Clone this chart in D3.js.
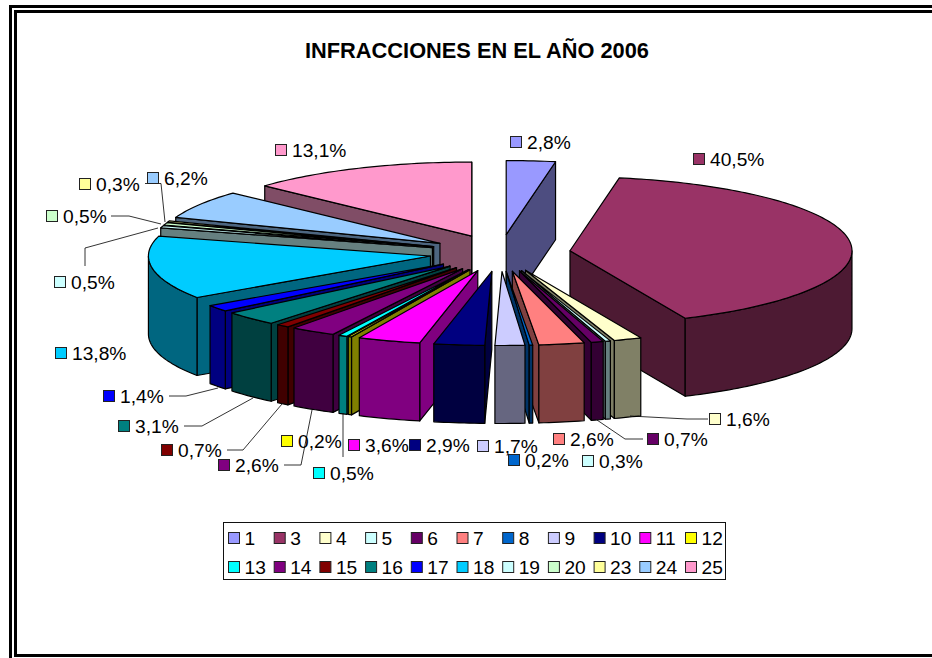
<!DOCTYPE html>
<html><head><meta charset="utf-8">
<script src="https://cdn.jsdelivr.net/npm/d3@7"></script>
<style>html,body{margin:0;padding:0;background:#fff}svg{display:block}
text{font-family:"Liberation Sans",Arial,sans-serif;fill:#000}</style></head>
<body><svg id="c" width="932" height="658"></svg>
<script>
const titleText = "INFRACCIONES EN EL AÑO 2006";
const categories = ["1","3","4","5","6","7","8","9","10","11","12","13","14","15","16","17","18","19","20","23","24","25"];
// shares as printed; the tail keeps a second decimal so the whole adds to 100 as the wedges do
const percentages = [2.8,40.5,1.6,0.3,0.7,2.6,0.2,1.7,2.9,3.6,0.2,0.5,2.6,0.74,3.14,1.44,13.8,0.52,0.52,0.32,6.2,13.12];
const colors = ["#9999FF","#993366","#FFFFCC","#CCFFFF","#660066","#FF8080","#0066CC","#CCCCFF","#000080","#FF00FF","#FFFF00","#00FFFF","#800080","#800000","#008080","#0000FF","#00CCFF","#CCFFFF","#CCFFCC","#FFFF99","#99CCFF","#FF99CC"];

// layout (not data): label key left edge / centre y, per category
const labelX = [510,693,709,582,647,553,508,477,409,348,281,313,218,161,118,103,55,54,46,79,147,275];
const labelY = [142,159,419,461,439,439,460,446,445,445,441,473,465,450,426,396,353,282,216,184,178,150];
const leaders = [
  [[145,183.5],[161,183.5],[165,222]],
  [[111,216],[129,216],[161,224]],
  [[85,266],[85,248],[158,228]],
  [[169,396],[186,396],[218,388]],
  [[184,426],[202,426],[253,398]],
  [[227,450],[243,450],[282,404]],
  [[284,465],[301,465],[312,410]],
  [[343,457],[343,413]],
  [[643,439],[625,439],[597,420]],
  [[708,419],[687,419],[630,416]]
];

const cx=500, cy=253, Rx=282, Ry=74, depth=78, explode=0.25;
const svg = d3.select("#c");

// double-line page frame
const frame = [[9,5,923,3],[14,10,918,3],[9,5,3,653],[14,10,3,647],[14,654,918,3]];
svg.selectAll("rect.f").data(frame).join("rect").attr("class","f")
  .attr("x",d=>d[0]).attr("y",d=>d[1]).attr("width",d=>d[2]).attr("height",d=>d[3]).attr("fill","#000");

svg.append("text").attr("x",477).attr("y",58).attr("text-anchor","middle")
  .attr("font-weight","bold").style("font-size","21.8px").text(titleText);

const pieGen = d3.pie().sort(null).value(d=>d.v).startAngle(0).endAngle(2*Math.PI);
const rows = categories.map((c,i)=>({c,v:percentages[i],col:colors[i],i}));
const arcs = pieGen(rows).map(a=>{
  const m=(a.startAngle+a.endAngle)/2;
  return {...a, mid:m, ax:cx+explode*Rx*Math.sin(m), ay:cy-explode*Ry*Math.cos(m)};
});
function rim(a,t,dz=0){return [a.ax+Rx*Math.sin(t), a.ay-Ry*Math.cos(t)+dz];}
function sample(t0,t1){const n=Math.max(2,Math.ceil((t1-t0)/0.02));return d3.range(n+1).map(k=>t0+(t1-t0)*k/n);}
const line=d3.line();
function dark(c){const r=d3.rgb(c);return d3.rgb(r.r/2,r.g/2,r.b/2).formatHex();}

const order = arcs.slice().sort((p,q)=>Math.cos(q.mid)-Math.cos(p.mid));
const pieG = svg.append("g").attr("stroke","#000").attr("stroke-width",1.2).attr("stroke-linejoin","round");
order.forEach(a=>{
  const g=pieG.append("g"), side=dark(a.data.col), PI=Math.PI;
  if(Math.sin(a.startAngle)<0){
    const p=rim(a,a.startAngle), q=rim(a,a.startAngle,depth);
    g.append("path").attr("fill",side).attr("d",line([[a.ax,a.ay],p,q,[a.ax,a.ay+depth]])+"Z");
  }
  if(Math.sin(a.endAngle)>0){
    const p=rim(a,a.endAngle), q=rim(a,a.endAngle,depth);
    g.append("path").attr("fill",side).attr("d",line([[a.ax,a.ay],p,q,[a.ax,a.ay+depth]])+"Z");
  }
  const t0=Math.max(a.startAngle,PI/2), t1=Math.min(a.endAngle,3*PI/2);
  if(t1>t0){
    const ts=sample(t0,t1);
    const top=ts.map(t=>rim(a,t)), bot=ts.map(t=>rim(a,t,depth)).reverse();
    g.append("path").attr("fill",side).attr("d",line(top.concat(bot))+"Z");
  }
  const ts=sample(a.startAngle,a.endAngle);
  g.append("path").attr("fill",a.data.col).attr("d",line([[a.ax,a.ay]].concat(ts.map(t=>rim(a,t))))+"Z");
});

// leader lines
svg.append("g").selectAll("path").data(leaders).join("path")
  .attr("fill","none").attr("stroke","#000").attr("stroke-width",0.8).attr("d",d=>line(d));

// data labels
const fmt=v=>v.toFixed(1).replace(".",",")+"%";
const lab=svg.append("g").selectAll("g").data(rows).join("g")
  .attr("transform",d=>`translate(${labelX[d.i]},${labelY[d.i]})`);
lab.append("rect").attr("x",.5).attr("y",-5.5).attr("width",11).attr("height",11)
  .attr("fill",d=>d.col).attr("stroke","#222").attr("stroke-width",1);
lab.append("text").attr("x",17).attr("y",7).style("font-size","19.2px").text(d=>fmt(d.v));

// legend
svg.append("rect").attr("x",223.5).attr("y",522.5).attr("width",502).attr("height",57)
  .attr("fill","#fff").attr("stroke","#111").attr("stroke-width",1);
const perRow=11;
const leg=svg.append("g").selectAll("g").data(rows).join("g")
  .attr("transform",(d,i)=>`translate(${228+45.7*(i%perRow)},${538+29*Math.floor(i/perRow)})`);
leg.append("rect").attr("x",.5).attr("y",-5.5).attr("width",11).attr("height",11)
  .attr("fill",d=>d.col).attr("stroke","#222").attr("stroke-width",1);
leg.append("text").attr("x",16.5).attr("y",7).style("font-size","19.2px").text(d=>d.c);
</script></body></html>
